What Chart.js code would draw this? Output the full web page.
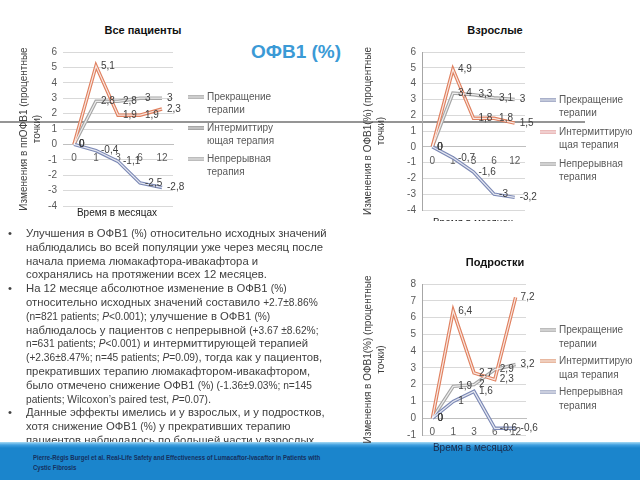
<!DOCTYPE html>
<html>
<head>
<meta charset="utf-8">
<script src="https://cdn.jsdelivr.net/npm/chart.js@4.4.0/dist/chart.umd.min.js"></script>
<style>
  body { margin: 0; background: #fff; }
  #slide { position: relative; width: 640px; height: 480px; overflow: hidden; background: #fff;
    font-family: "Liberation Sans", Arial, sans-serif; }
  .abs { position: absolute; }
  canvas { position: absolute; }
  #rule { left: 0; top: 121px; width: 585px; height: 2px; background: #959595; }
  #heading { left: 240px; top: 41px; width: 112px; text-align: center; font-size: 19px; font-weight: bold; color: #3b9ad6; }
  .ctitle { width: 140px; text-align: center; font-size: 11px; font-weight: bold; color: #111; line-height: 14px; }
  .xtitle { width: 120px; text-align: center; font-size: 10px; color: #222; line-height: 12px; }
  #notes { left: 26px; top: 227px; font-size: 11.3px; line-height: 13.8px; color: #404040; white-space: nowrap; }
  #notes p { margin: 0; position: relative; }
  #notes p::before { content: "\2022"; position: absolute; left: -18px; top: 0; }
  #notes .s { font-size: 10.2px; }
  #bar { left: 0; top: 442px; width: 640px; height: 38px;
    background: linear-gradient(#a8dcf5 0px, #3f9fe0 3px, #1b85cc 6px, #1b85cc 100%); }
  #ref { left: 33px; top: 453px; font-size: 6.5px; font-weight: bold; color: #15305e; line-height: 10px;
    transform: scaleX(0.93); transform-origin: left top; white-space: nowrap; }
  #x2clip { left: 413px; top: 214px; width: 120px; height: 7px; overflow: hidden; }
</style>
</head>
<body>
<div id="slide">
  <div id="rule" class="abs"></div>
  <div id="heading" class="abs">ОФВ1 (%)</div>

  <div class="abs ctitle" style="left:73px; top:23px">Все пациенты</div>
  <canvas id="allChart" width="290" height="180" style="left:0; top:40px"></canvas>
  <div class="abs xtitle" style="left:57px; top:207px">Время в месяцах</div>

  <div class="abs ctitle" style="left:425px; top:23px">Взрослые</div>
  <canvas id="adultChart" width="300" height="182" style="left:340px; top:40px"></canvas>
  <div id="x2clip" class="abs"><div class="xtitle" style="position:absolute; left:0; top:3px">Время в месяцах</div></div>

  <div id="notes" class="abs">
    <p>Улучшения в ОФВ1 <span class="s">(%)</span> относительно исходных значений<br>наблюдались во всей популяции уже через месяц после<br>начала приема люмакафтора-ивакафтора и<br>сохранялись на протяжении всех 12 месяцев.</p>
    <p>На 12 месяце абсолютное изменение в ОФВ1 <span class="s">(%)</span><br>относительно исходных значений составило <span class="s">+2.7±8.86%</span><br><span class="s">(n=821 patients; <i>P</i>&lt;0.001)</span>; улучшение в ОФВ1 <span class="s">(%)</span><br>наблюдалось у пациентов с непрерывной <span class="s">(+3.67 ±8.62%;</span><br><span class="s">n=631 patients; <i>P</i>&lt;0.001)</span> и интермиттирующей терапией<br><span class="s">(+2.36±8.47%; n=45 patients; <i>P</i>=0.09)</span>, тогда как у пациентов,<br>прекративших терапию люмакафтором-ивакафтором,<br>было отмечено снижение ОФВ1 <span class="s">(%) (-1.36±9.03%; n=145</span><br><span class="s">patients; Wilcoxon’s paired test, <i>P</i>=0.07)</span>.</p>
    <p>Данные эффекты имелись и у взрослых, и у подростков,<br>хотя снижение ОФВ1 <span class="s">(%)</span> у прекративших терапию<br>пациентов наблюдалось по большей части у взрослых</p>
  </div>

  <div id="bar" class="abs"></div>
  <div id="ref" class="abs">Pierre-Régis Burgel et al. Real-Life Safety and Effectiveness of Lumacaftor-Ivacaftor in Patients with<br>Cystic Fibrosis</div>

  <div class="abs ctitle" style="left:425px; top:255px">Подростки</div>
  <canvas id="teenChart" width="300" height="175" style="left:340px; top:272px"></canvas>
  <div class="abs xtitle" style="left:413px; top:442px; color:#1a2a4a">Время в месяцах</div>
</div>

<script>
// months on the x axis
const months = ['0', '1', '3', '6', '12'];

// all patients
const allStop = [0, -0.4, -1.1, -2.5, -2.8];
const allInter = [0, 5.1, 1.9, 1.9, 2.3];
const allCont = [0, 2.8, 2.8, 3, 3];

// adults
const adultStop = [0, -0.7, -1.6, -3, -3.2];
const adultInter = [0, 4.9, 1.8, 1.8, 1.5];
const adultCont = [0, 3.4, 3.3, 3.1, 3];

// adolescents
const teenStop = [0, 1, 1.6, -0.6, -0.6];
const teenInter = [0, 6.4, 2.7, 2.3, 7.2];
const teenCont = [0, 1.9, 2, 2.9, 3.2];

const seriesNames = [
  ['Прекращение', 'терапии'],
  ['Интермиттиру', 'ющая терапия'],
  ['Непрерывная', 'терапия']
];
const seriesNamesWide = [
  ['Прекращение', 'терапии'],
  ['Интермиттирую', 'щая терапия'],
  ['Непрерывная', 'терапия']
];

const stopColor = '#7b88b5';
const interColor = '#e0805f';
const contColor = '#a6a6a6';

Chart.defaults.font.family = '"Liberation Sans", Arial, sans-serif';

// value next to every point, comma decimals like the original
const valueLabels = {
  id: 'valueLabels',
  afterDatasetsDraw(chart) {
    const ctx = chart.ctx;
    ctx.save();
    ctx.font = '10px "Liberation Sans", Arial, sans-serif';
    ctx.fillStyle = '#404040';
    ctx.textBaseline = 'middle';
    chart.data.datasets.forEach((ds, i) => {
      if (!ds.valueLabels) return;
      chart.getDatasetMeta(i).data.forEach((pt, j) => {
        ctx.fillText(String(ds.data[j]).replace('.', ','), pt.x + 5, pt.y);
      });
    });
    ctx.restore();
  }
};

// legend on the right, two text lines per entry
const sideLegend = {
  id: 'sideLegend',
  afterDraw(chart, args, opts) {
    const ctx = chart.ctx;
    ctx.save();
    ctx.font = '10px "Liberation Sans", Arial, sans-serif';
    ctx.textBaseline = 'middle';
    opts.names.forEach((lines, i) => {
      const y = opts.y + i * opts.step;
      ctx.beginPath();
      ctx.moveTo(opts.x, y);
      ctx.lineTo(opts.x + 16, y);
      ctx.strokeStyle = opts.colors[i];
      ctx.lineWidth = 3.5;
      ctx.stroke();
      ctx.strokeStyle = 'rgba(255,255,255,0.8)';
      ctx.lineWidth = 1.2;
      ctx.stroke();
      ctx.fillStyle = '#595959';
      lines.forEach((t, k) => ctx.fillText(t, opts.x + 19, y + k * opts.lineH));
    });
    ctx.restore();
  }
};

function makeChart(id, stop, inter, cont, yMin, yMax, yTitle, pad, yWidth, yBorder, legend) {
  const datasets = [];
  [[stop, stopColor], [inter, interColor], [cont, contColor]].forEach(([vals, color]) => {
    datasets.push({ data: vals, borderColor: color, borderWidth: 3.5, pointRadius: 0, tension: 0, order: 1, valueLabels: true });
    datasets.push({ data: vals, borderColor: 'rgba(255,255,255,0.8)', borderWidth: 1.2, pointRadius: 0, tension: 0, order: 0 });
  });
  return new Chart(document.getElementById(id), {
    type: 'line',
    data: { labels: months, datasets: datasets },
    options: {
      responsive: false,
      animation: false,
      events: [],
      layout: { padding: pad },
      plugins: {
        legend: { display: false },
        tooltip: { enabled: false },
        sideLegend: legend
      },
      scales: {
        x: {
          type: 'category',
          offset: true,
          position: { y: 0 },
          grid: { display: false, drawTicks: false },
          border: { color: '#bfbfbf' },
          ticks: { color: '#595959', font: { size: 10 }, padding: 8, maxRotation: 0, autoSkip: false },
          afterFit(s) { s.height = 0; }
        },
        y: {
          min: yMin,
          max: yMax,
          ticks: { stepSize: 1, color: '#595959', font: { size: 10 }, padding: 6 },
          grid: { color: '#d9d9d9', drawTicks: false },
          border: { display: yBorder, color: '#a6a6a6' },
          title: { display: true, text: yTitle, color: '#404040', font: { size: 10, lineHeight: 1.3 } },
          afterFit(s) { s.width = yWidth; }
        }
      }
    },
    plugins: [valueLabels, sideLegend]
  });
}

makeChart('allChart', allStop, allInter, allCont, -4, 6,
  ['Изменения в ппОФВ1 (процентные', 'точки)'],
  { left: 14, top: 9, right: 117, bottom: 14 }, 49, false,
  { x: 188, y: 57, step: 31, lineH: 13, names: seriesNames, colors: ['#a0a0a0', '#8a8a8a', '#a6a6a6'] });

makeChart('adultChart', adultStop, adultInter, adultCont, -4, 6,
  ['Изменения в ОФВ1(%) (процентные', 'точки)'],
  { left: 18, top: 11, right: 115, bottom: 9 }, 64, true,
  { x: 200, y: 60, step: 32, lineH: 13.5, names: seriesNamesWide, colors: ['#8c96b8', '#e3a3a3', '#a6a6a6'] });

makeChart('teenChart', teenStop, teenInter, teenCont, -1, 8,
  ['Изменения в ОФВ1(%) (процентные', 'точки)'],
  { left: 18, top: 10, right: 114, bottom: 9 }, 64, true,
  { x: 200, y: 58, step: 31, lineH: 14, names: seriesNamesWide, colors: ['#a6a6a6', '#e0a080', '#9aa3c0'] });
</script>
</body>
</html>
